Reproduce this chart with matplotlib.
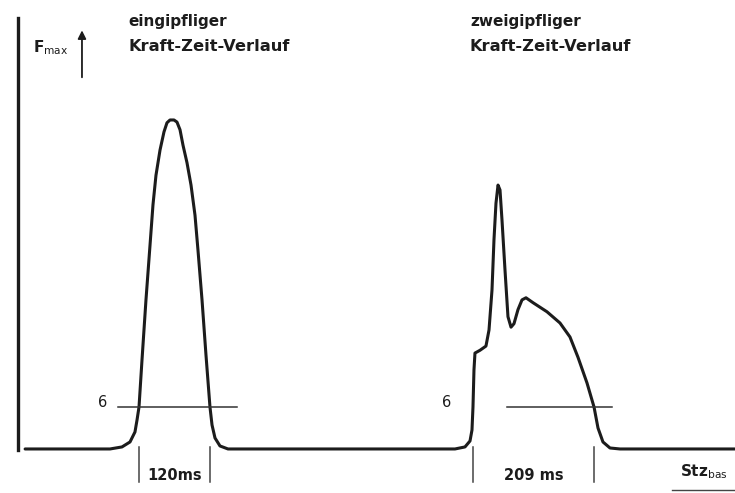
import matplotlib
matplotlib.use("Agg")
import matplotlib.pyplot as plt

# ---- data (time in ms, force in arbitrary units; G level = 6) ----
time_ms = [19, 164.1, 184.6, 198.3, 206.8, 210.3, 213.7, 218.8, 225.6, 232.5, 237.6,
           242.7, 249.6, 256.4, 261.5, 266.7, 273.5, 278.6, 283.8, 288.9, 295.7,
           302.6, 309.4, 314.5, 321.4, 328.2, 335.0,
           338.5, 343.6, 352.1, 365.8,
           753.8, 770.9, 779.5, 782.9, 784.6, 786.3, 788.0, 796.6, 806.8, 812.0,
           817.1, 820.5, 823.9, 827.4, 830.8, 834.2, 839.3, 844.4, 849.6, 854.7,
           861.5, 868.4, 875.2, 887.2, 911.1, 933.3, 950.4, 964.1, 979.5, 991.5,
           998.3, 1006.8, 1018.8, 1035.9, 1232]
force = [0, 0, 0.29, 1.0, 2.43, 4.14, 6.0, 12.7, 21.3, 29.1, 34.9,
         39.1, 42.7, 45.3, 46.6, 47.0, 47.0, 46.7, 45.6, 43.4, 40.9,
         37.7, 33.4, 28.4, 21.3, 13.4, 6.0,
         3.43, 1.57, 0.43, 0,
         0, 0.29, 1.14, 2.71, 6.0, 11.3, 13.7, 14.1, 14.7, 17.0,
         22.7, 29.9, 35.1, 37.7, 37.0, 32.7, 25.6, 18.9, 17.4, 17.9,
         19.9, 21.3, 21.6, 20.9, 19.6, 18.0, 16.0, 13.1, 9.43, 6.0,
         3.0, 1.0, 0.14, 0, 0]

g_level = 6
g_label = "6"
g_lines = [(177.8, 381.2), (842.7, 1022.2)]          # extent of the G reference lines
g_label_pos = [152, 740]
durations = [(213.7, 335.0), (784.6, 991.5)]          # contact-time markers
duration_labels = ["120ms", "209 ms"]
titles = [("eingipfliger", "Kraft-Zeit-Verlauf"), ("zweigipfliger", "Kraft-Zeit-Verlauf")]
title_pos = [194.9, 779.5]

ink = "#1c1c1c"

fig = plt.figure(figsize=(7.35, 4.93), dpi=100)
ax = fig.add_axes([0, 0, 1, 1])
ax.set_xlim(-23.93, 1232.5)
ax.set_ylim(-6.29, 64.14)
ax.set_facecolor("white")

# axes
for s in ["top", "right", "bottom"]:
    ax.spines[s].set_visible(False)
ax.spines["left"].set_position(("data", 6))
ax.spines["left"].set_bounds(-0.2, 61.6)
ax.spines["left"].set_linewidth(2.4)
ax.spines["left"].set_color(ink)
ax.set_xticks([])
ax.set_yticks([])

# force-time trace with baseline
ax.plot(time_ms, force, color=ink, lw=2.2, solid_joinstyle="round", solid_capstyle="round")

# G reference lines
for (x0, x1), lx in zip(g_lines, g_label_pos):
    ax.plot([x0, x1], [g_level, g_level], color="#333333", lw=1.1)
    ax.text(lx, g_level + 0.6, g_label, fontsize=10.5, color=ink, ha="center", va="center")

# duration markers
for (a, b), lab in zip(durations, duration_labels):
    for x in (a, b):
        ax.plot([x, x], [0.3, -4.7], color="#444444", lw=1.1)
    ax.text((a + b) / 2, -3.86, lab, fontsize=10.5, fontweight="bold", color=ink,
            ha="center", va="center")

# titles
for (l1, l2), tx in zip(titles, title_pos):
    ax.text(tx, 61.0, l1, fontsize=11, fontweight="bold", color=ink, ha="left", va="center")
    ax.text(tx, 57.5, l2, fontsize=11.7, fontweight="bold", color=ink, ha="left", va="center")

# Fmax label with arrow
ax.text(32.5, 57.4, r"F$_{\rm max}$", fontsize=11, fontweight="bold", color=ink,
        ha="left", va="center")
ax.annotate("", xy=(116.2, 60.2), xytext=(116.2, 52.7),
            arrowprops=dict(arrowstyle="-|>", color=ink, lw=1.3, mutation_scale=12))

# x label
ax.text(1138.5, -3.3, r"Stz$_{\rm bas}$", fontsize=11, fontweight="bold", color=ink,
        ha="left", va="center")
ax.plot([1124.8, 1232], [-5.86, -5.86], color="#444444", lw=1.0)

fig.savefig("out.png", dpi=100, facecolor="white")
